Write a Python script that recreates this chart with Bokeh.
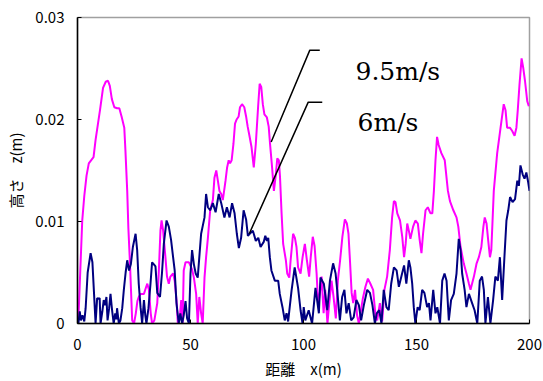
from bokeh.plotting import figure
from bokeh.models import Range1d, FixedTicker, Label
from bokeh.embed import file_html
from bokeh.resources import INLINE

# Surface height profile along the track, for two wind speeds
x_fast = [0, 0.5, 1.2, 2.1, 3, 4, 5, 6, 7.1, 8, 9, 10, 11.3, 12.5, 13.5, 14.3, 15.2, 16.3,
          17.5, 18.5, 19.5, 20.7, 21.2, 22, 22.5, 23.2, 24.2, 25, 25.8, 26.5, 27.1, 27.9,
          29.4, 30.4, 30.9, 31.6, 32.4, 33, 34, 35.3, 36, 36.7, 37.2, 37.9, 38.9, 39.6,
          40.4, 41.1, 42.3, 43, 43.8, 44.4, 45.3, 45.9, 46.5, 47, 47.8, 49.3, 50.7, 51.5,
          52.5, 53.2, 53.9, 54.7, 55.4, 56.2, 56.9, 57.7, 58.7, 59.9, 60.6, 61.4, 62.1,
          62.8, 63.6, 64.3, 65.5, 66.2, 66.9, 67.5, 68.2, 69, 69.7, 70.4, 71.3, 71.9,
          72.8, 73.8, 74.6, 75.3, 76, 77, 78, 78.9, 79.9, 80.6, 81.3, 82, 82.7, 83.8,
          84.6, 85.2, 86.1, 86.9, 87.8, 88.4, 89.1, 89.6, 90.3, 91, 92.2, 92.8, 93.7,
          94.3, 95.4, 96.2, 96.9, 97.6, 98.7, 99.6, 100.6, 101.5, 102.5, 103.2, 104.1,
          104.9, 105.8, 106.5, 107.4, 108, 108.9, 109.6, 110.6, 111.4, 112.4, 113.3,
          114.3, 115.2, 116.2, 117.2, 118.3, 119.2, 119.9, 120.6, 121.3, 122, 122.8,
          123.7, 124.5, 125.2, 126.3, 127.4, 128.5, 129.6, 130.8, 131.9, 132.6, 133.8,
          134.8, 135.8, 137, 138.2, 139.2, 140, 140.7, 141.5, 142.7, 143.7, 144.5, 145.2,
          145.9, 146.6, 147.3, 148.5, 149.5, 150.6, 151.4, 152.2, 152.9, 154, 155, 156.2,
          157, 157.7, 158.4, 159.1, 159.8, 161, 162.5, 163.9, 164.8, 166.3, 167.7, 168.5,
          169.5, 170.9, 172.1, 173.2, 173.9, 175.4, 176.6, 177.6, 178.7, 179.6, 180.2,
          181, 181.7, 182.5, 183.1, 183.6, 184.2, 185.7, 187.2, 188.6, 189.4, 190.1,
          191.3, 192.3, 193.4, 194.2, 194.8, 195.6, 196.5, 197.2, 198, 199, 199.7]
z_fast = [0, 0.001, 0.005, 0.0101, 0.0125, 0.0145, 0.0157, 0.016, 0.0163, 0.018, 0.0195,
          0.021, 0.0231, 0.0237, 0.0238, 0.0233, 0.022, 0.0212, 0.0211, 0.0211, 0.0203,
          0.0192, 0.017, 0.013, 0.0094, 0.006, 0.0003, 0, 0.001, 0.0022, 0.0026, 0.0029,
          0.0029, 0.0036, 0.0039, 0.0033, 0.001, 0, 0.0003, 0.002, 0.0052, 0.0091, 0.0101,
          0.0091, 0.0065, 0.0046, 0.0039, 0.0046, 0.0049, 0.0042, 0.0023, 0, 0.0007,
          0.0023, 0, 0.0052, 0.006, 0.006, 0.0053, 0.0045, 0.0029, 0, 0.0026, 0.001, 0,
          0.0045, 0.0065, 0.0084, 0.0111, 0.0121, 0.0143, 0.015, 0.014, 0.013, 0.0127,
          0.0121, 0.014, 0.0153, 0.016, 0.0157, 0.016, 0.0176, 0.0196, 0.02, 0.0203,
          0.0212, 0.0215, 0.0212, 0.0203, 0.0193, 0.0185, 0.0173, 0.0153, 0.0176, 0.0212,
          0.0235, 0.0232, 0.0215, 0.0205, 0.0202, 0.0193, 0.0176, 0.0153, 0.013, 0.0147,
          0.0162, 0.016, 0.0144, 0.0108, 0.0078, 0.0062, 0.0049, 0.0045, 0.0062, 0.0088,
          0.0084, 0.0075, 0.0055, 0.0049, 0.0065, 0.0078, 0.0062, 0.0046, 0.0065, 0.0085,
          0.0076, 0.0049, 0.0018, 0.0033, 0.0046, 0.001, 0.0033, 0, 0.002, 0.0042,
          0.0026, 0.0005, 0.0042, 0.0062, 0.0085, 0.0102, 0.0098, 0.0088, 0.006, 0.003,
          0.002, 0.0033, 0.0008, 0, 0.001, 0.0025, 0.0036, 0.0044, 0.0039, 0.0033,
          0.0007, 0.0003, 0.002, 0.0002, 0.0033, 0.0046, 0.0072, 0.0104, 0.012, 0.0119,
          0.0108, 0.0101, 0.0085, 0.0065, 0.0078, 0.0098, 0.0091, 0.0083, 0.0095, 0.0101,
          0.0098, 0.0082, 0.0069, 0.0088, 0.0111, 0.0114, 0.0108, 0.0108, 0.013, 0.016,
          0.0183, 0.0175, 0.0167, 0.016, 0.013, 0.012, 0.0111, 0.0104, 0.0095, 0.0075,
          0.0059, 0.0049, 0.0039, 0.0033, 0.0046, 0.0059, 0.0065, 0.0075, 0.0095, 0.0104,
          0.0098, 0.0082, 0.0065, 0.0072, 0.0098, 0.013, 0.0167, 0.0192, 0.0215, 0.0209,
          0.0192, 0.0192, 0.0189, 0.0184, 0.0192, 0.0209, 0.0235, 0.026, 0.0251, 0.0238,
          0.0218, 0.0213]

x_slow = [0, 0.4, 1, 1.5, 2.2, 3, 3.6, 4.5, 5.8, 6.6, 7.3, 8, 8.7, 9.3, 9.8, 10.2, 11,
          11.6, 12.2, 12.8, 13.3, 14, 14.6, 15.3, 16, 16.7, 17.2, 17.5, 18.3, 19, 19.8,
          20.5, 21.3, 22, 22.8, 23.6, 24.5, 25.7, 26.4, 27.1, 27.9, 28.6, 29.4, 30, 30.5,
          31.4, 32.3, 33, 33.8, 34.5, 35.3, 36.5, 37.4, 38.2, 39.4, 40.4, 41.4, 42.3, 43,
          43.8, 44.8, 45.5, 46.3, 47, 47.8, 48.5, 49.3, 50, 50.7, 51.5, 52.3, 53.2, 54,
          54.7, 56.2, 56.9, 57.7, 58.7, 59.9, 61.1, 62.5, 63.6, 65, 66.1, 67.3, 68.4,
          69.5, 70.5, 71.4, 72.4, 73.5, 74.6, 75.4, 76.2, 77.6, 78.9, 80, 81, 82.4, 83.1,
          83.8, 84.4, 85.1, 85.8, 87.3, 88.8, 89.5, 90.7, 91.7, 92.5, 93.2, 94.7, 96.1,
          97.6, 98.7, 99.6, 100.1, 100.8, 102.3, 103.8, 105.3, 106.8, 107.5, 109, 110.5,
          111.7, 113.1, 114.2, 114.9, 116.1, 117.1, 118.1, 119, 120, 121.1, 122.2, 123.4,
          124.5, 125.5, 126.7, 128.2, 129.4, 130.5, 131.6, 132.4, 133.5, 134.5, 135.5,
          136.7, 137.7, 138.8, 140, 141.2, 142.2, 143.3, 144.5, 145.5, 146.6, 147.3,
          148.1, 148.8, 149.5, 150.5, 151.4, 152.5, 153.5, 154.7, 155.5, 156.2, 157.4,
          158.4, 159.2, 160.4, 161.4, 162.4, 163.3, 164.3, 165.3, 166.5, 167.7, 168.7,
          169.5, 170.2, 171.3, 172.1, 173.2, 174.6, 175.7, 176.9, 178, 179, 179.8, 180.5,
          181.6, 182.7, 183.9, 184.9, 186, 186.9, 187.9, 188.9, 189.8, 190.6, 191.4,
          192.5, 193.6, 194.6, 195.3, 196, 197, 197.8, 198.6, 199.3, 200]
z_slow = [0, 0, 0.0012, 0.0003, 0.0008, 0.0002, 0.0015, 0.005, 0.0069, 0.006, 0.003, 0,
          0.0025, 0.0024, 0.0025, 0, 0.0012, 0.0023, 0.0018, 0.0026, 0.0003, 0.0015,
          0.0029, 0.0013, 0, 0.001, 0.0004, 0.0015, 0, 0.0003, 0.0015, 0.0033, 0.005,
          0.0062, 0.0052, 0.0058, 0.0075, 0.0088, 0.0072, 0.0039, 0.0016, 0, 0.0023,
          0.0008, 0, 0.0015, 0.0039, 0.006, 0.0058, 0.0056, 0.003, 0.0026, 0.005, 0.0078,
          0.0101, 0.0095, 0.0082, 0.0065, 0.0052, 0.002, 0, 0.001, 0, 0.0008, 0.0022,
          0.0005, 0, 0.0049, 0.0072, 0.0058, 0.0049, 0.0045, 0.0068, 0.0088, 0.0104,
          0.0127, 0.0114, 0.0111, 0.0118, 0.0109, 0.0127, 0.0118, 0.0104, 0.0114, 0.0104,
          0.0118, 0.0108, 0.0088, 0.0074, 0.0084, 0.0111, 0.0102, 0.0086, 0.0088, 0.0091,
          0.0081, 0.0084, 0.0075, 0.008, 0.0086, 0.0081, 0.0084, 0.0065, 0.0052, 0.0042,
          0.0042, 0.0029, 0.0016, 0.0003, 0.001, 0.0002, 0.0032, 0.0055, 0.0035, 0.0013,
          0, 0.0016, 0.0003, 0.0013, 0, 0.0035, 0.001, 0.0045, 0.0039, 0.0013, 0.0042,
          0.0059, 0.0049, 0.0033, 0.0003, 0.0026, 0.0033, 0.001, 0.002, 0.0003, 0.0006,
          0.0023, 0.0018, 0.0003, 0.0018, 0.0033, 0.003, 0.0018, 0, 0.001, 0.0013, 0,
          0.0033, 0.0016, 0.0013, 0.0039, 0.0055, 0.0052, 0.0036, 0.0046, 0.0057, 0.0039,
          0.0062, 0.0055, 0.0039, 0.0016, 0, 0.0016, 0.0013, 0.0033, 0.003, 0.0016, 0.002,
          0.0003, 0.0033, 0.001, 0.0016, 0, 0.0042, 0.0049, 0.0042, 0.0003, 0.0023,
          0.0029, 0.0049, 0.0083, 0.0072, 0.0049, 0.0033, 0.0016, 0.0029, 0.002, 0.0013,
          0, 0.0042, 0.0046, 0.0033, 0, 0.0026, 0, 0.0023, 0.0046, 0.0042, 0.0065,
          0.0023, 0.0065, 0.0101, 0.0111, 0.0124, 0.0119, 0.0122, 0.014, 0.0135, 0.0155,
          0.0146, 0.0142, 0.0148, 0.014, 0.013]

x_ticks = [0, 50, 100, 150, 200]
z_ticks = [0, 0.01, 0.02, 0.03]
z_tick_labels = ["0", "0.01", "0.02", "0.03"]

# Leader lines from each curve to its label (elbow shape)
leader_fast_x = [85.7, 102.8, 107.2]
leader_fast_z = [0.0178, 0.0268, 0.0268]
leader_slow_x = [76.0, 102.1, 108.3]
leader_slow_z = [0.0088, 0.0217, 0.0217]

label_fast = "9.5m/s"
label_slow = "6m/s"

JP = "Noto Sans CJK JP"

p = figure(width=543, height=381, output_backend="svg", toolbar_location=None,
           x_range=Range1d(0, 200), y_range=Range1d(0, 0.03),
           min_border_left=77, min_border_right=14, min_border_top=17,
           min_border_bottom=58, background_fill_color="white",
           border_fill_color="white")

p.grid.visible = False
p.outline_line_color = "#a0a0a0"
p.outline_line_width = 1.5

p.line(x_fast, z_fast, line_color="#ff00ff", line_width=2)
p.line(x_slow, z_slow, line_color="#000080", line_width=2)

p.line(leader_fast_x, leader_fast_z, line_color="black", line_width=1.5)
p.line(leader_slow_x, leader_slow_z, line_color="black", line_width=1.5)

p.add_layout(Label(x=123, y=0.0247, text=label_fast, text_font="DejaVu Serif",
                   text_font_size="25px", text_color="black",
                   text_baseline="alphabetic"))
p.add_layout(Label(x=123.9, y=0.0197, text=label_slow, text_font="DejaVu Serif",
                   text_font_size="25px", text_color="black",
                   text_baseline="alphabetic"))

for ax in (p.xaxis[0], p.yaxis[0]):
    ax.axis_line_color = "black"
    ax.axis_line_width = 1.5
    ax.major_tick_in = 4
    ax.major_tick_out = 0
    ax.minor_tick_in = 0
    ax.minor_tick_out = 0
    ax.major_tick_line_color = "black"
    ax.major_label_text_font = JP
    ax.major_label_text_font_size = "15px"
    ax.major_label_text_color = "black"
    ax.axis_label_text_font = JP
    ax.axis_label_text_font_size = "15px"
    ax.axis_label_text_font_style = "normal"
    ax.axis_label_text_color = "black"

p.xaxis.ticker = FixedTicker(ticks=x_ticks)
p.xaxis.major_label_standoff = 15
p.xaxis.axis_label = "距離　x(m)"
p.xaxis.axis_label_standoff = 5

p.yaxis.ticker = FixedTicker(ticks=z_ticks)
p.yaxis.major_label_overrides = {t: s for t, s in zip(z_ticks, z_tick_labels)}
p.yaxis.major_label_standoff = 13
p.yaxis.axis_label = "高さ　z(m)"
p.yaxis.axis_label_standoff = 6

open("out.html", "w").write(file_html(p, INLINE))
